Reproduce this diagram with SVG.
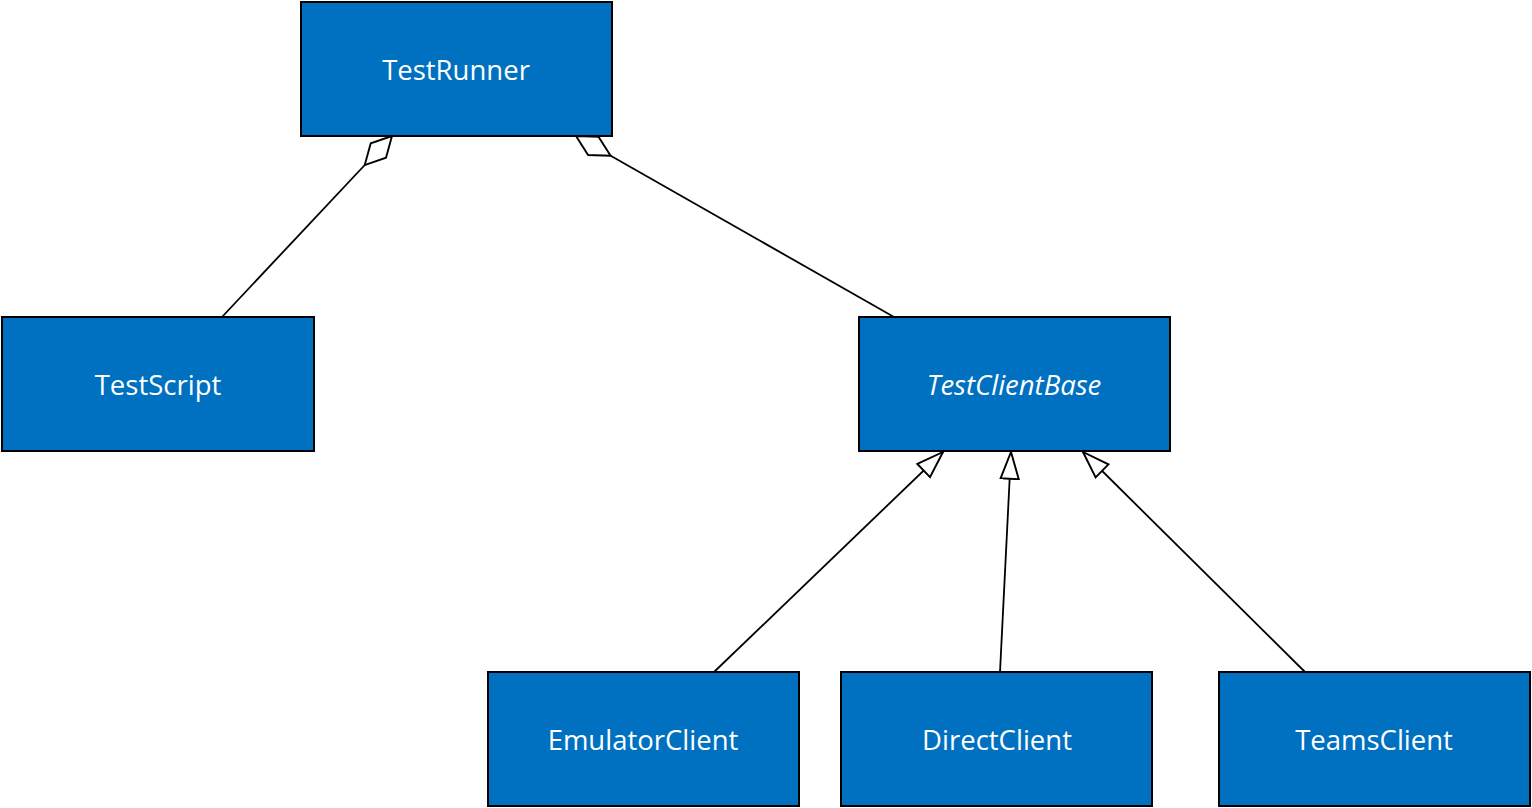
<svg xmlns="http://www.w3.org/2000/svg" width="1532" height="808" viewBox="0 0 1532 808">
<style>
.box{fill:#0070C0;stroke:#000;stroke-width:2}
.lbl{fill:#fff;font-family:"Open Sans","Liberation Sans",sans-serif;font-size:27.5px;text-anchor:middle;dominant-baseline:central}
.conn{fill:none;stroke:#000;stroke-width:1.8}
</style>
<defs>
<marker id="diamond" markerUnits="userSpaceOnUse" markerWidth="44" markerHeight="26" viewBox="-1 -12 42 24" refX="38" refY="0" orient="auto">
<path d="M0,0 L19,-10 L38,0 L19,10 Z" fill="#fff" stroke="#000" stroke-width="1.8"/>
</marker>
<marker id="tri" markerUnits="userSpaceOnUse" markerWidth="30" markerHeight="24" viewBox="-1 -11 28 22" refX="25" refY="0" orient="auto">
<path d="M0,-8.5 L25,0 L0,8.5 Z" fill="#fff" stroke="#000" stroke-width="1.8"/>
</marker>
</defs>
<g id="connectors">
<path class="conn" d="M222,317 L392,136" marker-end="url(#diamond)"/>
<path class="conn" d="M894,317 L576,136" marker-end="url(#diamond)"/>
<path class="conn" d="M714,672 L943,452" marker-end="url(#tri)"/>
<path class="conn" d="M1000,672 L1011,452" marker-end="url(#tri)"/>
<path class="conn" d="M1305,672 L1083,452" marker-end="url(#tri)"/>
</g>
<g id="TestRunner"><rect class="box" x="301" y="2" width="311" height="134"/><text class="lbl" x="456" y="69">TestRunner</text></g>
<g id="TestScript"><rect class="box" x="2" y="317" width="312" height="134"/><text class="lbl" x="158" y="384">TestScript</text></g>
<g id="TestClientBase"><rect class="box" x="859" y="317" width="311" height="134"/><text class="lbl" x="1014" y="384" font-style="italic">TestClientBase</text></g>
<g id="EmulatorClient"><rect class="box" x="488" y="672" width="311" height="134"/><text class="lbl" x="643" y="739">EmulatorClient</text></g>
<g id="DirectClient"><rect class="box" x="841" y="672" width="311" height="134"/><text class="lbl" x="997" y="739">DirectClient</text></g>
<g id="TeamsClient"><rect class="box" x="1219" y="672" width="311" height="134"/><text class="lbl" x="1374" y="739">TeamsClient</text></g>
</svg>
